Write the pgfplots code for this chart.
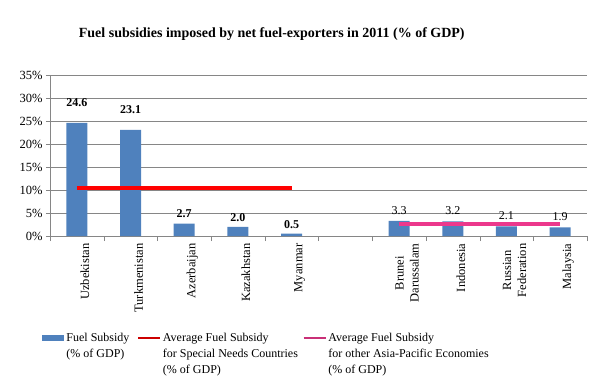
\documentclass[border=0pt]{standalone}
\usepackage{fontspec}
\setmainfont{Liberation Serif}
\usepackage{pgfplots}
\pgfplotsset{compat=1.18}
\definecolor{barblue}{RGB}{79,129,189}
\definecolor{avgpink}{RGB}{236,56,140}
\definecolor{gridgray}{RGB}{134,134,134}
\begin{document}
\begin{tikzpicture}
\begin{axis}[
  scale only axis, width=537pt, height=161pt,
  clip=false,
  xmin=-0.5, xmax=9.5, ymin=0, ymax=35,
  axis x line*=bottom, axis y line*=left,
  axis line style={gridgray, -},
  /pgf/number format/assume math mode=true,
  ytick={0,5,...,35},
  yticklabel={\pgfmathprintnumber{\tick}\%},
  y tick label style={font=\fontsize{12.5}{14}\selectfont},
  ymajorgrids, grid style={gridgray, line width=0.8pt},
  xtick={0,...,9},
  xticklabels={Uzbekistan,Turkmenistan,Azerbaijan,Kazakhstan,Myanmar,,{Brunei\\Darussalam},Indonesia,{Russian\\Federation},Malaysia},
  x tick label style={rotate=90, anchor=east, align=center, font=\fontsize{12.5}{15}\selectfont, yshift=-8pt},
  minor xtick={-0.5,0.5,...,9.5},
  major x tick style={draw=none},
  minor x tick style={gridgray},
  y tick style={gridgray},
  minor tick length=5pt, major tick length=4pt,
  tick align=outside,
  legend style={at={(axis description cs:-0.02,-0.575)}, anchor=north west, draw=none, fill=none,
    legend columns=3, font=\fontsize{12}{16}\selectfont,
    cells={anchor=north west, align=left},
    /tikz/column 2/.style={column sep=6pt},
    /tikz/column 4/.style={column sep=3pt}},
]
\addplot[ybar, bar width=21pt, bar shift=0pt, fill=barblue, draw=none,
  nodes near coords={\pgfmathprintnumber[fixed,fixed zerofill,precision=1]{\pgfplotspointmeta}},
  nodes near coords style={font=\fontsize{12}{14}\selectfont\bfseries, yshift=13pt},
  legend image code/.code={\fill[barblue] (0pt,-10pt) rectangle (22pt,-4pt);}]
  coordinates {(0,24.6) (1,23.1)};
\addlegendentry{Fuel Subsidy\\(\% of GDP)}
\addplot[ybar, bar width=21pt, bar shift=0pt, fill=barblue, draw=none, forget plot,
  nodes near coords={\pgfmathprintnumber[fixed,fixed zerofill,precision=1]{\pgfplotspointmeta}},
  nodes near coords style={font=\fontsize{12}{14}\selectfont\bfseries, yshift=2pt}]
  coordinates {(2,2.7) (3,2.0) (4,0.5)};
\addplot[ybar, bar width=21pt, bar shift=0pt, fill=barblue, draw=none, forget plot,
  nodes near coords={\pgfmathprintnumber[fixed,fixed zerofill,precision=1]{\pgfplotspointmeta}},
  nodes near coords style={font=\fontsize{12}{14}\selectfont, yshift=3pt}]
  coordinates {(6,3.3) (7,3.2) (8,2.1) (9,1.9)};
\addplot[red, line width=4pt, mark=none,
  legend image code/.code={\draw[red!80!black, line width=1.5pt] (0pt,-7pt) -- (22pt,-7pt);}]
  coordinates {(0,10.5) (4,10.5)};
\addlegendentry{Average Fuel Subsidy\\for Special Needs Countries\\(\% of GDP)}
\addplot[avgpink, line width=4pt, mark=none,
  legend image code/.code={\draw[avgpink!85!black, line width=1.5pt] (0pt,-7pt) -- (22pt,-7pt);}]
  coordinates {(6,2.6) (9,2.6)};
\addlegendentry{Average Fuel Subsidy\\for other Asia-Pacific Economies\\(\% of GDP)}
\node[font=\fontsize{14}{17}\selectfont\bfseries] at (axis description cs:0.413,1.255)
  {Fuel subsidies imposed by net fuel-exporters in 2011 (\% of GDP)};
\path (axis description cs:-0.0931,-0.882) rectangle (axis description cs:1.0391,1.466);
\end{axis}
\end{tikzpicture}
\end{document}
